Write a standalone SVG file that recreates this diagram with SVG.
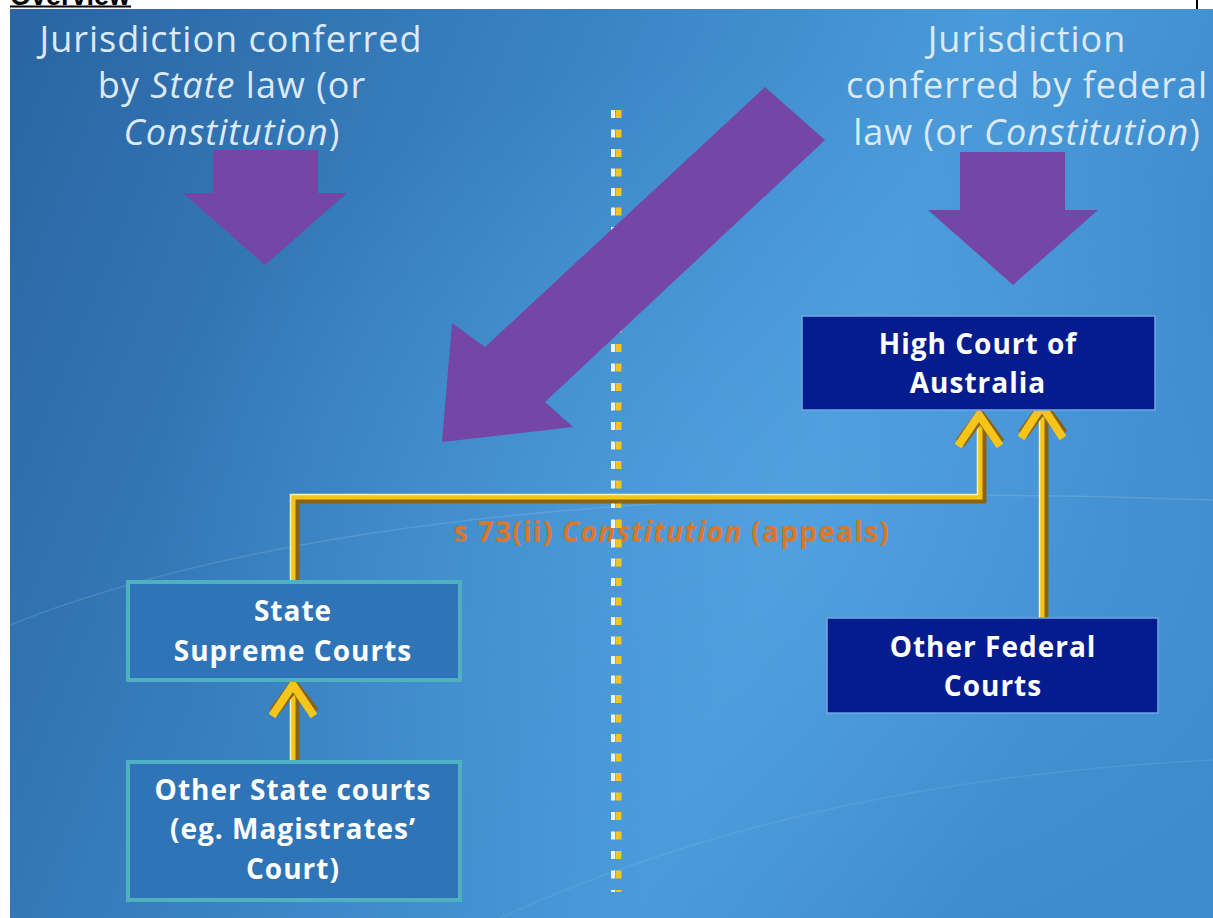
<svg xmlns="http://www.w3.org/2000/svg" width="1213" height="918" viewBox="0 0 1213 918">
<defs>
<linearGradient id="bg" x1="0" y1="0" x2="1" y2="0.3">
<stop offset="0" stop-color="#2a64a2"/>
<stop offset="0.45" stop-color="#3a84c4"/>
<stop offset="0.75" stop-color="#4a9ad9"/>
<stop offset="1" stop-color="#3f8ccd"/>
</linearGradient>
<radialGradient id="glow" cx="0.62" cy="0.55" r="0.5">
<stop offset="0" stop-color="#5aa8e6" stop-opacity="0.45"/>
<stop offset="1" stop-color="#5aa8e6" stop-opacity="0"/>
</radialGradient>
<style>
.lbl{font-family:"Open Sans",Lato,sans-serif;font-size:36px;letter-spacing:1px;fill:#dce9f7;text-anchor:middle}
.nt{font-family:"Open Sans",Lato,sans-serif;font-size:28px;letter-spacing:1px;font-weight:700;fill:#ffffff;text-anchor:middle}
.fed{fill:#051c8e;stroke:#6fa6e6;stroke-width:1.5}
.st{fill:#2f74b6;stroke:#4fb0c2;stroke-width:4}
.arr{fill:#7447a6}
.wshadow{fill:none;stroke:#8a6414;stroke-width:9;stroke-linejoin:miter}
.wire{fill:none;stroke:#f5c51c;stroke-width:5;stroke-linejoin:miter}
.whl{fill:none;stroke:#fff2a0;stroke-width:1.5;stroke-linejoin:miter}
.head{fill:none;stroke:#f5c51c;stroke-width:8;stroke-linejoin:miter;stroke-linecap:butt}
.headsh{fill:none;stroke:#8a6414;stroke-width:11;stroke-linejoin:miter}
.dw{stroke:#e8f4ff;stroke-width:4;stroke-dasharray:8 11.5}
.dy{stroke:#f2c61e;stroke-width:6;stroke-dasharray:8 11.5}
</style>
</defs>
<rect x="0" y="0" width="1213" height="918" fill="#ffffff"/>
<text x="10" y="5" font-family="Liberation Sans,Arial,sans-serif" font-size="27" font-weight="700" fill="#000">Overview</text>
<rect x="10" y="5.5" width="121" height="2" fill="#000"/>
<rect x="1196" y="0" width="2" height="9" fill="#000"/>
<rect x="10" y="9" width="1203" height="909" fill="url(#bg)"/>
<rect x="10" y="9" width="1203" height="909" fill="url(#glow)"/>
<path d="M10,625 Q400,470 1213,500" fill="none" stroke="#ffffff" stroke-opacity="0.12" stroke-width="1.5"/>
<path d="M500,918 Q800,780 1213,760" fill="none" stroke="#ffffff" stroke-opacity="0.08" stroke-width="1.5"/>

<g id="label-state">
<polygon class="arr" points="213,150 318,150 318,193 347,193 265,265 183,193 213,193"/>
<text class="lbl" x="231" y="52">Jurisdiction conferred</text>
<text class="lbl" x="232" y="98">by <tspan font-style="italic">State</tspan> law (or</text>
<text class="lbl" x="232" y="145"><tspan font-style="italic">Constitution</tspan>)</text>
</g>

<g id="label-federal">
<polygon class="arr" points="960,152 1065,152 1065,210 1098,210 1013,285 928,210 960,210"/>
<text class="lbl" x="1027" y="52">Jurisdiction</text>
<text class="lbl" x="1027" y="98">conferred by federal</text>
<text class="lbl" x="1027" y="145">law (or <tspan font-style="italic">Constitution</tspan>)</text>
</g>

<g id="divider">
<line class="dw" x1="613" y1="110" x2="613" y2="892"/>
<line class="dy" x1="618.5" y1="110" x2="618.5" y2="892"/>
</g>

<g id="cross-arrow">
<polygon class="arr" points="765,87 825,140 545,402 573,427 442,442 452,323 485,347"/>
</g>

<g id="connectors">
<text x="672" y="542" font-family="'Open Sans',Lato,sans-serif" font-size="28" letter-spacing="1.3" font-weight="700" fill="#d9772a" text-anchor="middle">s 73(ii) <tspan font-style="italic">Constitution</tspan> (appeals)</text>
<line class="dw" x1="613" y1="520" x2="613" y2="560"/>
<line class="dy" x1="618.5" y1="520" x2="618.5" y2="560"/>
<!-- State Supreme -> High Court -->
<path class="wshadow" d="M295,582 V499 H982 V418"/>
<path class="wire" d="M293,582 V497 H980 V418"/>
<path class="whl" d="M290.5,582 V494.5 H977.5 V418"/>
<polyline class="headsh" points="960,443 980,416 1000,443"/>
<polyline class="head" points="958,446 979,415 1000,446"/>
<!-- Other Federal -> High Court -->
<path class="wshadow" d="M1044,618 V408"/>
<path class="wire" d="M1042,618 V408"/>
<path class="whl" d="M1039.5,618 V408"/>
<polyline class="headsh" points="1023,434 1043,407 1063,434"/>
<polyline class="head" points="1021,438 1042,406 1063,438"/>
<!-- Other State -> Supreme -->
<path class="wshadow" d="M295,760 V688"/>
<path class="wire" d="M293,760 V688"/>
<path class="whl" d="M290.5,760 V688"/>
<polyline class="headsh" points="274,712 294,686 314,712"/>
<polyline class="head" points="272,716 293,685 314,716"/>
</g>

<g id="high-court">
<rect class="fed" x="802" y="316" width="353" height="94"/>
<text class="nt" x="978" y="354">High Court of</text>
<text class="nt" x="978" y="393">Australia</text>
</g>

<g id="other-federal">
<rect class="fed" x="827" y="618" width="331" height="95"/>
<text class="nt" x="993" y="657">Other Federal</text>
<text class="nt" x="993" y="696">Courts</text>
</g>

<g id="state-supreme">
<rect class="st" x="128" y="582" width="332" height="98"/>
<text class="nt" x="293" y="621">State</text>
<text class="nt" x="293" y="661">Supreme Courts</text>
</g>

<g id="other-state">
<rect class="st" x="128" y="762" width="332" height="138"/>
<text class="nt" x="293" y="800">Other State courts</text>
<text class="nt" x="293" y="839">(eg. Magistrates’</text>
<text class="nt" x="293" y="879">Court)</text>
</g>
</svg>
